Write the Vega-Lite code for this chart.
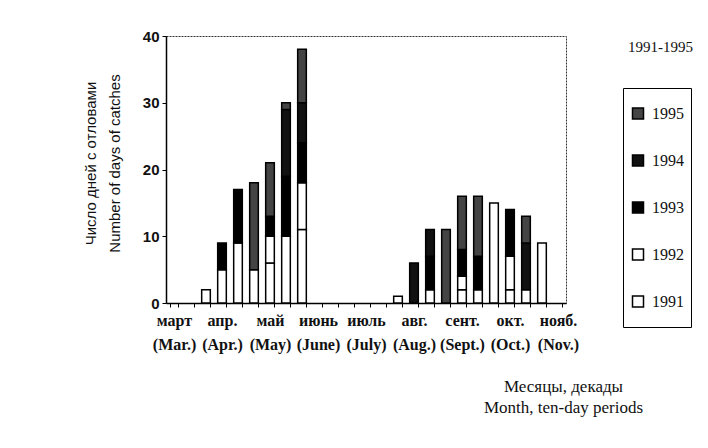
{
  "$schema": "https://vega.github.io/schema/vega-lite/v6.json",
  "width": 400,
  "height": 267,
  "autosize": {"type": "none"},
  "padding": {"left": 166, "top": 36, "right": 142, "bottom": 145},
  "background": "white",
  "title": {
    "text": "1991-1995",
    "anchor": "start",
    "frame": "group",
    "orient": "top",
    "offset": 0,
    "dx": 462,
    "dy": 38,
    "baseline": "alphabetic",
    "font": "Liberation Serif",
    "fontSize": 15,
    "fontWeight": "normal",
    "color": "#111"
  },
  "data": {
    "values": [
      {"dec": 2, "year": 1991, "n": 2},
      {"dec": 3, "year": 1991, "n": 5},
      {"dec": 3, "year": 1993, "n": 4},
      {"dec": 4, "year": 1991, "n": 9},
      {"dec": 4, "year": 1993, "n": 8},
      {"dec": 5, "year": 1991, "n": 5},
      {"dec": 5, "year": 1995, "n": 13},
      {"dec": 6, "year": 1991, "n": 6},
      {"dec": 6, "year": 1992, "n": 4},
      {"dec": 6, "year": 1993, "n": 3},
      {"dec": 6, "year": 1995, "n": 8},
      {"dec": 7, "year": 1991, "n": 10},
      {"dec": 7, "year": 1993, "n": 9},
      {"dec": 7, "year": 1994, "n": 10},
      {"dec": 7, "year": 1995, "n": 1},
      {"dec": 8, "year": 1991, "n": 11},
      {"dec": 8, "year": 1992, "n": 7},
      {"dec": 8, "year": 1993, "n": 6},
      {"dec": 8, "year": 1994, "n": 6},
      {"dec": 8, "year": 1995, "n": 8},
      {"dec": 14, "year": 1991, "n": 1},
      {"dec": 15, "year": 1994, "n": 6},
      {"dec": 16, "year": 1991, "n": 2},
      {"dec": 16, "year": 1993, "n": 5},
      {"dec": 16, "year": 1994, "n": 4},
      {"dec": 17, "year": 1995, "n": 11},
      {"dec": 18, "year": 1991, "n": 2},
      {"dec": 18, "year": 1992, "n": 2},
      {"dec": 18, "year": 1993, "n": 4},
      {"dec": 18, "year": 1995, "n": 8},
      {"dec": 19, "year": 1991, "n": 2},
      {"dec": 19, "year": 1993, "n": 5},
      {"dec": 19, "year": 1995, "n": 9},
      {"dec": 20, "year": 1992, "n": 15},
      {"dec": 21, "year": 1991, "n": 2},
      {"dec": 21, "year": 1992, "n": 5},
      {"dec": 21, "year": 1993, "n": 7},
      {"dec": 22, "year": 1991, "n": 2},
      {"dec": 22, "year": 1994, "n": 7},
      {"dec": 22, "year": 1995, "n": 4},
      {"dec": 23, "year": 1992, "n": 9}
    ]
  },
  "mark": {"type": "bar", "stroke": "black", "strokeWidth": 1.5},
  "encoding": {
    "x": {
      "field": "dec",
      "type": "ordinal",
      "scale": {"domain": [0,1,2,3,4,5,6,7,8,9,10,11,12,13,14,15,16,17,18,19,20,21,22,23,24], "paddingInner": 0.46, "paddingOuter": 0.23},
      "axis": {
        "labelAngle": 0,
        "labelOverlap": false,
        "labelExpr": "datum.value == 0 ? ['март', '(Mar.)'] : datum.value == 3 ? ['апр.', '(Apr.)'] : datum.value == 6 ? ['май', '(May)'] : datum.value == 9 ? ['июнь', '(June)'] : datum.value == 12 ? ['июль', '(July)'] : datum.value == 15 ? ['авг.', '(Aug.)'] : datum.value == 18 ? ['сент.', '(Sept.)'] : datum.value == 21 ? ['окт.', '(Oct.)'] : datum.value == 24 ? ['нояб.', '(Nov.)'] : ''",
        "labelFont": "Liberation Serif",
        "labelFontSize": 16,
        "labelFontWeight": "bold",
        "labelColor": "#111",
        "labelBaseline": "top",
        "labelLineHeight": 24,
        "labelPadding": 5,
        "tickBand": "extent",
        "tickSize": 4,
        "tickColor": "black",
        "domainColor": "black",
        "domainWidth": 1.5,
        "title": ["Месяцы, декады", "Month, ten-day periods"],
        "titleFont": "Liberation Serif",
        "titleFontSize": 17,
        "titleFontWeight": "normal",
        "titleColor": "#111",
        "titleX": 397,
        "titleY": 88,
        "titleAlign": "center",
        "titleBaseline": "alphabetic",
        "titleLineHeight": 21
      }
    },
    "y": {
      "aggregate": "sum",
      "field": "n",
      "type": "quantitative",
      "stack": "zero",
      "scale": {"domain": [0, 40], "nice": false},
      "axis": {
        "values": [0, 10, 20, 30, 40],
        "grid": false,
        "labelFont": "Liberation Sans",
        "labelFontSize": 15,
        "labelFontWeight": "bold",
        "labelColor": "#111",
        "labelPadding": 3,
        "tickSize": 4,
        "tickColor": "black",
        "domainColor": "black",
        "domainWidth": 1.5,
        "title": ["Число дней с отловами", "Number of days of catches"],
        "titleFont": "Liberation Sans",
        "titleFontSize": 15,
        "titleFontWeight": "normal",
        "titleColor": "#111",
        "titleAngle": -90,
        "titleX": -71,
        "titleY": 127,
        "titleAlign": "center",
        "titleBaseline": "alphabetic",
        "titleLineHeight": 24
      }
    },
    "color": {
      "field": "year",
      "type": "nominal",
      "scale": {
        "domain": [1995, 1994, 1993, 1992, 1991],
        "range": ["#444444", "#111111", "#000000", "#ffffff", "#ffffff"]
      },
      "legend": {
        "orient": "none",
        "legendX": 457,
        "legendY": 52,
        "title": null,
        "symbolType": "square",
        "symbolSize": 121,
        "symbolStrokeColor": "black",
        "symbolStrokeWidth": 1.5,
        "symbolOpacity": 1,
        "labelFont": "Liberation Serif",
        "labelFontSize": 16,
        "labelColor": "#111",
        "labelOffset": 6,
        "clipHeight": 37,
        "rowPadding": 10,
        "padding": 7,
        "strokeColor": "black"
      }
    },
    "order": {"field": "year", "type": "quantitative", "sort": "ascending"}
  },
  "config": {
    "view": {"stroke": "#333", "strokeDash": [2, 1], "strokeWidth": 1}
  }
}
